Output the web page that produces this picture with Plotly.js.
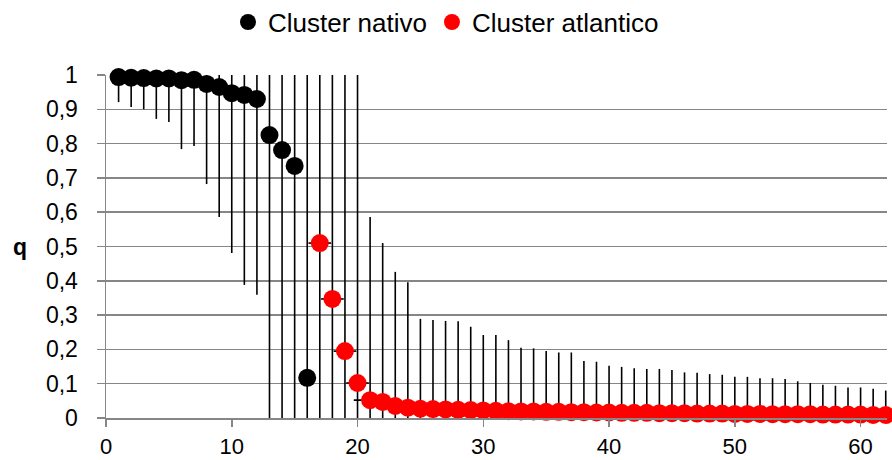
<!DOCTYPE html>
<html>
<head>
<meta charset="utf-8">
<script src="https://cdn.plot.ly/plotly-3.0.1.min.js"></script>
<style>
html,body{margin:0;padding:0;background:#fff;}
#chart{width:892px;height:460px;}
</style>
</head>
<body>
<div id="chart"></div>
<script>
// Cluster nativo (black) individuals
var nativoX = [1,2,3,4,5,6,7,8,9,10,11,12,13,14,15,16];
var nativoQ = [0.994,0.992,0.991,0.99,0.99,0.985,0.986,0.974,0.965,0.947,0.942,0.93,0.825,0.781,0.735,0.117];
var nativoUpper = [1,1,1,1,1,1,1,1,1,1,1,1,1,1,1,1];
var nativoLower = [0.921,0.907,0.90,0.872,0.863,0.784,0.793,0.682,0.586,0.481,0.388,0.359,0,0,0,0];

// Cluster atlantico (red) individuals
var atlX = [17,18,19,20,21,22,23,24,25,26,27,28,29,30,31,32,33,34,35,36,37,38,39,40,41,42,43,44,45,46,47,48,49,50,51,52,53,54,55,56,57,58,59,60,61,62];
var atlQ = [0.51,0.347,0.195,0.102,0.052,0.047,0.035,0.03,0.027,0.026,0.025,0.024,0.023,0.022,0.021,0.02,0.019,0.019,0.018,0.018,0.017,0.017,0.016,0.016,0.015,0.015,0.015,0.014,0.014,0.014,0.013,0.013,0.013,0.012,0.012,0.012,0.011,0.011,0.011,0.011,0.010,0.010,0.010,0.010,0.009,0.009];
var atlUpper = [1,1,1,1,0.586,0.51,0.426,0.396,0.289,0.286,0.283,0.282,0.266,0.242,0.242,0.227,0.205,0.203,0.195,0.191,0.191,0.166,0.164,0.152,0.149,0.145,0.143,0.143,0.14,0.133,0.132,0.128,0.126,0.12,0.12,0.116,0.116,0.114,0.107,0.102,0.097,0.094,0.089,0.089,0.085,0.08];
var atlLower = atlX.map(function(){return 0;});
var atlXerr = [0.9,0.9,0.9,0.9,1.3];

var yTicks = [0,0.1,0.2,0.3,0.4,0.5,0.6,0.7,0.8,0.9,1];
var xTicks = [0,10,20,30,40,50,60];

function plus(v,u){return u.map(function(x,i){return Math.max(0,x-v[i]);});}
function minus(v,l){return l.map(function(x,i){return Math.max(0,v[i]-x);});}

var traces = [
  {
    x: nativoX, y: nativoQ, type: 'scatter', mode: 'markers', name: 'Cluster nativo',
    marker: {color: '#000000', size: 18},
    error_y: {type: 'data', symmetric: false, array: plus(nativoQ, nativoUpper), arrayminus: minus(nativoQ, nativoLower),
              color: '#000000', thickness: 1.6, width: 0},
    cliponaxis: false
  },
  {
    x: atlX, y: atlQ, type: 'scatter', mode: 'markers', name: 'Cluster atlantico',
    marker: {color: '#ff0000', size: 18},
    error_y: {type: 'data', symmetric: false, array: plus(atlQ, atlUpper), arrayminus: minus(atlQ, atlLower),
              color: '#000000', thickness: 1.6, width: 0},
    error_x: {type: 'data', symmetric: true, array: atlXerr.concat(atlX.slice(atlXerr.length).map(function(){return 0;})),
              color: '#000000', thickness: 1.6, width: 0},
    cliponaxis: false
  }
];

var layout = {
  width: 892, height: 460,
  margin: {l: 106, r: 5, t: 75, b: 42},
  paper_bgcolor: '#ffffff', plot_bgcolor: '#ffffff',
  font: {family: 'Liberation Sans, Arial, sans-serif', size: 23, color: '#000000'},
  separators: ', ',
  showlegend: true,
  legend: {orientation: 'h', x: 0.5, xref: 'container', xanchor: 'center', y: 0.952, yref: 'container', yanchor: 'middle',
           font: {size: 26, color: '#000000'}, itemsizing: 'trace', itemwidth: 30,
           tracegroupgap: 0, bgcolor: 'rgba(0,0,0,0)'},
  xaxis: {range: [0, 62.1], tickvals: xTicks, ticks: 'outside', ticklen: 7, tickcolor: '#868686', tickwidth: 1.5,
          showgrid: false, zeroline: false, showline: true, linecolor: '#868686', linewidth: 1.5,
          tickfont: {size: 22}, automargin: false, ticklabelstandoff: 1},
  yaxis: {range: [0, 1], tickvals: yTicks, ticks: 'outside', ticklen: 8, tickcolor: '#868686', tickwidth: 1.5,
          showgrid: true, gridcolor: '#868686', gridwidth: 1.5, zeroline: false, showline: true,
          linecolor: '#868686', linewidth: 1.5, tickfont: {size: 23}, automargin: false, ticklabelstandoff: 14},
  annotations: [
    {text: '<b>q</b>', xref: 'paper', yref: 'paper', x: -0.11, y: 0.5, xanchor: 'center', yanchor: 'middle',
     showarrow: false, font: {size: 23, color: '#000000'}}
  ]
};

Plotly.newPlot('chart', traces, layout, {staticPlot: true, displayModeBar: false});
</script>
</body>
</html>
